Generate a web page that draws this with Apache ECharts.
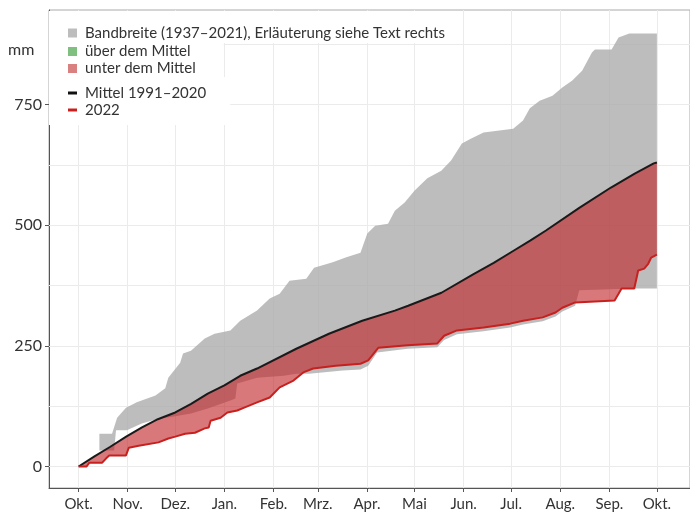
<!DOCTYPE html>
<html>
<head>
<meta charset="utf-8">
<script src="https://cdn.jsdelivr.net/npm/echarts@6/dist/echarts.min.js"></script>
<style>
  html, body { margin: 0; padding: 0; background: #fff; }
  #chart { width: 690px; height: 519px; }
</style>
</head>
<body>
<div id="chart"></div>
<script>
  // x = Tage seit 1. Oktober, y = Niederschlag kumuliert (mm)
  const monthDays = [0, 31, 61, 92, 123, 151, 182, 212, 243, 273, 304, 335, 365]
  const monthLabels = ['Okt.', 'Nov.', 'Dez.', 'Jan.', 'Feb.', 'Mrz.', 'Apr.', 'Mai', 'Jun.', 'Jul.', 'Aug.', 'Sep.', 'Okt.']
  const yTickValues = [0, 250, 500, 750]
  const yGridValues = [0, 125, 250, 375, 500, 625, 750, 875]

  // Bandbreite 1937-2021, obere Grenze
  const upperDays = [13.1, 21.1, 24.3, 29.9, 36.7, 48.5, 54.7, 56.6, 64.1, 65.9, 70.9, 79.6, 85.8, 95.8, 102, 112.6, 120.6, 126.9, 133.1, 143.7, 148.6, 160.4, 168.5, 177.9, 182.2, 187.2, 195.3, 199.6, 205.8, 212.1, 220.1, 228.9, 235.1, 241.9, 247.5, 255.6, 274.3, 280.5, 284.8, 291, 299.1, 305.3, 311.6, 317.8, 324, 325.9, 336.4, 340.8, 347.6, 365]
  const upperMm = [68, 68, 101, 122, 133, 147, 162, 184, 215, 234, 240, 265, 275, 282, 302, 323, 348, 358, 385, 389, 412, 423, 433, 443, 483, 499, 503, 530, 547, 572, 597, 613, 634, 669, 679, 692, 700, 717, 742, 758, 768, 785, 800, 820, 858, 864, 864, 889, 897, 897]

  // Bandbreite 1937-2021, untere Grenze
  const lowerDays = [13.1, 22.4, 23.6, 30.5, 39.8, 50.4, 61, 70.9, 81.5, 95.8, 98.9, 100.1, 112.6, 129.4, 137.4, 145.5, 166.7, 177.9, 182.8, 188.4, 207.7, 226.4, 230.7, 238.8, 255.6, 272.4, 280.5, 292.9, 301, 305.3, 313.4, 316, 350.7, 365]
  const lowerMm = [33, 33, 75, 75, 89, 99, 104, 110, 120, 137, 141, 172, 184, 188, 192, 192, 199, 201, 209, 236, 244, 247, 262, 274, 280, 288, 294, 301, 311, 321, 333, 365, 369, 369]

  // Mittel 1991-2020
  const meanDays = [0, 10, 20, 30, 40, 50, 61, 71, 81.5, 92, 102, 112.6, 137.4, 158, 179, 199.6, 208, 229, 249, 262, 274, 285, 295, 316, 336, 351, 363, 365]
  const meanMm = [0, 21, 41, 62, 81, 98, 112, 130, 151, 168, 188, 203, 244, 275, 302, 323, 333, 360, 398, 422, 446, 468, 489, 536, 578, 607, 628, 630]

  // 2022
  const yearDays = [0, 5, 6.8, 14.9, 17.4, 19.3, 29.9, 31.7, 37.9, 50.4, 56.6, 61, 67.2, 73.4, 79.6, 82.1, 83.3, 89.6, 93.9, 100.1, 104.5, 112.6, 120.6, 126.9, 135.6, 141.8, 148, 162.3, 177.9, 182.8, 189.1, 207.7, 226.4, 230.7, 238.8, 255.6, 272.4, 280.5, 292.9, 301, 305.3, 313.4, 338.3, 340.8, 342.7, 350.7, 353.2, 357, 359.5, 361.4, 365]
  const yearMm = [0, 0, 8, 8, 17, 23, 23, 39, 43, 50, 58, 62, 68, 70, 79, 81, 95, 101, 112, 116, 122, 133, 143, 164, 178, 195, 203, 209, 213, 220, 246, 251, 255, 271, 282, 288, 296, 302, 309, 319, 329, 340, 344, 358, 369, 369, 406, 410, 420, 433, 439]

  const FONT = 'Lato'
  const NAME_BAND = 'Bandbreite (1937–2021), Erläuterung siehe Text rechts'
  const NAME_UP = 'über dem Mittel'
  const NAME_DOWN = 'unter dem Mittel'
  const NAME_MEAN = 'Mittel 1991–2020'
  const NAME_YEAR = '2022'

  const chart = echarts.init(document.getElementById('chart'))

  const polygon = (xsA, ysA, xsB, ysB, fill) => (params, api) => {
    const top = xsA.map((d, i) => api.coord([d, ysA[i]]))
    const bottom = xsB.map((d, i) => api.coord([d, ysB[i]])).reverse()
    return {type: 'polygon', shape: {points: top.concat(bottom)}, style: {fill: fill}}
  }

  const legendText = {fontFamily: FONT, fontSize: 15, lineHeight: 16, color: '#333', padding: [0, 0, 0, 3]}

  const option = {
    animation: false,
    textStyle: {fontFamily: FONT},
    grid: {
      left: 49, top: 10, width: 650, bottom: 31,
      show: true, backgroundColor: '#fff', borderColor: '#aaa', borderWidth: 1
    },
    graphic: [
      {type: 'text', left: 8, top: 42, style: {text: 'mm', fontFamily: FONT, fontSize: 16, fill: '#333'}}
    ],
    legend: [
      {
        data: [{name: NAME_BAND, icon: 'rect', itemStyle: {color: '#bdbdbd'}}],
        orient: 'vertical', left: 49, top: 11, padding: [14, 10, 2, 19],
        itemWidth: 9, itemHeight: 9, itemGap: 1, selectedMode: false,
        backgroundColor: '#fff', textStyle: legendText, z: 10
      },
      {
        data: [
          {name: NAME_UP, icon: 'rect', itemStyle: {color: '#7fbf7f'}},
          {name: NAME_DOWN, icon: 'rect', itemStyle: {color: '#d98080'}}
        ],
        orient: 'vertical', left: 49, top: 43, padding: [0.5, 28, 0.5, 19],
        itemWidth: 9, itemHeight: 9, itemGap: 1, selectedMode: false,
        backgroundColor: '#fff', textStyle: legendText, z: 10
      },
      {
        data: [
          {name: NAME_MEAN, icon: 'rect', itemStyle: {color: '#111'}},
          {name: NAME_YEAR, icon: 'rect', itemStyle: {color: '#c8201e'}}
        ],
        orient: 'vertical', left: 49, top: 77, padding: [8, 24, 7, 19],
        itemWidth: 9, itemHeight: 3, itemGap: 1, selectedMode: false,
        backgroundColor: '#fff', textStyle: legendText, z: 10
      }
    ],
    xAxis: {
      type: 'value', min: -18.7, max: 385.9,
      axisLine: {onZero: false, lineStyle: {color: '#555', width: 1}},
      axisTick: {customValues: monthDays, length: 4, lineStyle: {color: '#555'}},
      axisLabel: {
        customValues: monthDays, margin: 9, fontSize: 15, color: '#333', fontFamily: FONT,
        formatter: (v) => monthLabels[monthDays.indexOf(v)]
      },
      splitLine: {show: false}
    },
    yAxis: {
      type: 'value', min: -44.5, max: 945.8,
      axisLine: {show: true, onZero: false, lineStyle: {color: '#555', width: 1}},
      axisTick: {show: true, customValues: yTickValues, length: 4, lineStyle: {color: '#555'}},
      axisLabel: {customValues: yTickValues, margin: 7, fontSize: 16, color: '#333', fontFamily: FONT},
      splitLine: {show: false}
    },
    series: [
      {
        name: 'raster', type: 'line', data: [], z: 1, silent: true,
        markLine: {
          z: 1, silent: true, symbol: ['none', 'none'], animation: false,
          label: {show: false},
          lineStyle: {color: '#ebebeb', width: 1, type: 'solid'},
          emphasis: {disabled: true},
          data: monthDays.map(d => ({xAxis: d})).concat(yGridValues.map(v => ({yAxis: v})))
        }
      },
      {
        name: NAME_BAND, type: 'custom', data: [[0, 0]], z: 2, silent: true,
        itemStyle: {color: '#bdbdbd'},
        renderItem: polygon(upperDays, upperMm, lowerDays, lowerMm, 'rgba(172,172,172,0.8)')
      },
      {
        name: NAME_UP, type: 'custom', data: [], z: 3, silent: true,
        itemStyle: {color: '#7fbf7f'},
        renderItem: () => null
      },
      {
        name: NAME_DOWN, type: 'custom', data: [[0, 0]], z: 3, silent: true,
        itemStyle: {color: '#d98080'},
        renderItem: polygon(meanDays, meanMm, yearDays, yearMm, 'rgba(190,30,35,0.6)')
      },
      {
        name: NAME_MEAN, type: 'line', z: 4, silent: true, showSymbol: false,
        data: meanDays.map((d, i) => [d, meanMm[i]]),
        itemStyle: {color: '#111'},
        lineStyle: {color: '#1a1a1a', width: 2}
      },
      {
        name: NAME_YEAR, type: 'line', z: 5, silent: true, showSymbol: false,
        data: yearDays.map((d, i) => [d, yearMm[i]]),
        itemStyle: {color: '#c8201e'},
        lineStyle: {color: '#c8201e', width: 2}
      }
    ]
  }

  chart.setOption(option)
</script>
</body>
</html>
